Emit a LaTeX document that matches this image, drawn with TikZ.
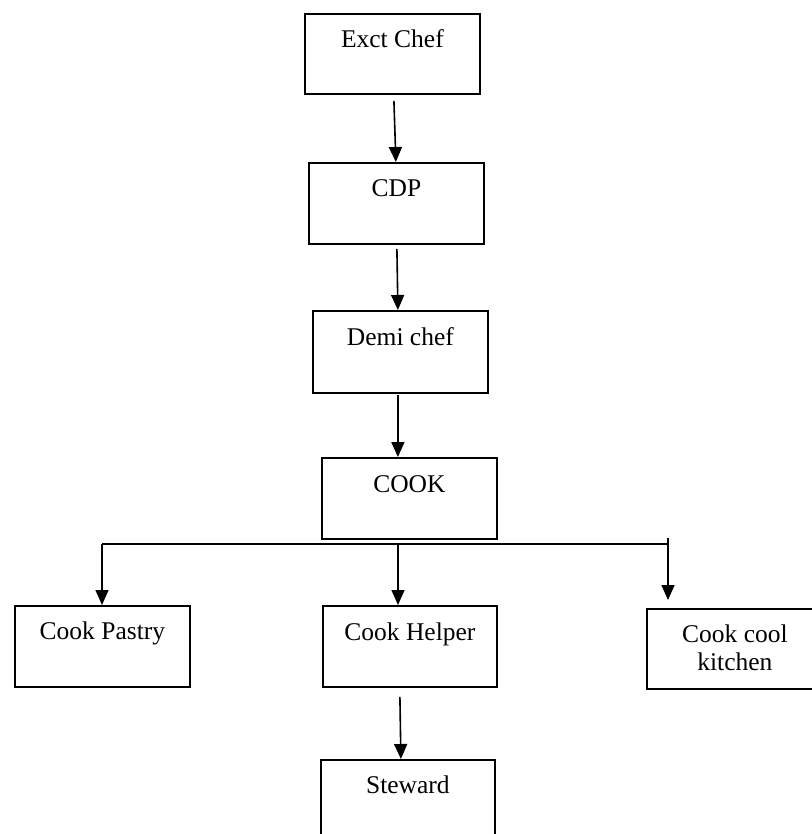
\documentclass[tikz,border=0pt]{standalone}
\usepackage{fontspec}
\setmainfont{Liberation Serif}
\usetikzlibrary{arrows.meta,calc}
\begin{document}
\begin{tikzpicture}[x=1pt,y=-1pt,
  box/.style={draw, line width=1.8pt, anchor=north west, inner sep=0pt},
  lbl/.style={anchor=base, inner sep=0pt, font=\fontsize{25.5}{28}\selectfont},
  arr/.style={line width=1.6pt, -{Triangle[length=15pt,width=13pt]}},
  bus/.style={line width=1.6pt}]
\useasboundingbox[fill=white] (0,0) rectangle (811,834);
% boxes
\node[box, minimum width=175pt, minimum height=80pt] (exct) at (304,13) {};
\node[box, minimum width=175pt, minimum height=81pt] (cdp) at (308,162) {};
\node[box, minimum width=175pt, minimum height=82pt] (demi) at (312,310) {};
\node[box, minimum width=175pt, minimum height=81pt] (cook) at (321,457) {};
\node[box, minimum width=175pt, minimum height=81pt] (pastry) at (14,605) {};
\node[box, minimum width=174pt, minimum height=81pt] (helper) at (322,605) {};
\node[box, minimum width=176pt, minimum height=80pt] (coolk) at (646,608) {};
\node[box, minimum width=174pt, minimum height=95pt] (steward) at (320,759) {};
% labels
\node[lbl] (exctT) at ($(exct.north)+(0,35)$) {Exct Chef};
\node[lbl] (cdpT) at ($(cdp.north)+(0,35)$) {CDP};
\node[lbl] (demiT) at ($(demi.north)+(0,35)$) {Demi chef};
\node[lbl] (cookT) at ($(cook.north)+(0,35)$) {COOK};
\node[lbl] (pastryT) at ($(pastry.north)+(0,34)$) {Cook Pastry};
\node[lbl] (helperT) at ($(helper.north)+(0,35)$) {Cook Helper};
\node[lbl] (coolkT1) at ($(coolk.north)+(0,34)$) {Cook cool};
\node[lbl] (coolkT2) at ($(coolk.north)+(0,62)$) {kitchen};
\node[lbl] (stewardT) at ($(steward.north)+(0,34)$) {Steward};
% arrows in the chain
\draw[arr] ([xshift=1.5pt,yshift=-6pt]exct.south) -- ([xshift=-0.5pt]cdp.north);
\draw[arr] ([xshift=0.5pt,yshift=-4pt]cdp.south) -- ([xshift=-2.5pt]demi.north);
\draw[arr] ([xshift=-2.5pt,yshift=-1pt]demi.south) -- ([xshift=-11.5pt]cook.north);
% bus
\coordinate (busL) at (102,544);
\coordinate (busM) at (398,544);
\coordinate (busR) at (668,544);
\coordinate (busT) at (668,538);
\draw[bus] (busL) -- (busR);
\draw[arr] (busL) -- (busL |- pastry.north);
\draw[arr] (busM) -- (busM |- helper.north);
\draw[arr, shorten >=8pt] (busT) -- (busT |- coolk.north);
\draw[arr] ([xshift=-10pt,yshift=-9pt]helper.south) -- ([xshift=-7pt]steward.north);
\end{tikzpicture}
\end{document}
